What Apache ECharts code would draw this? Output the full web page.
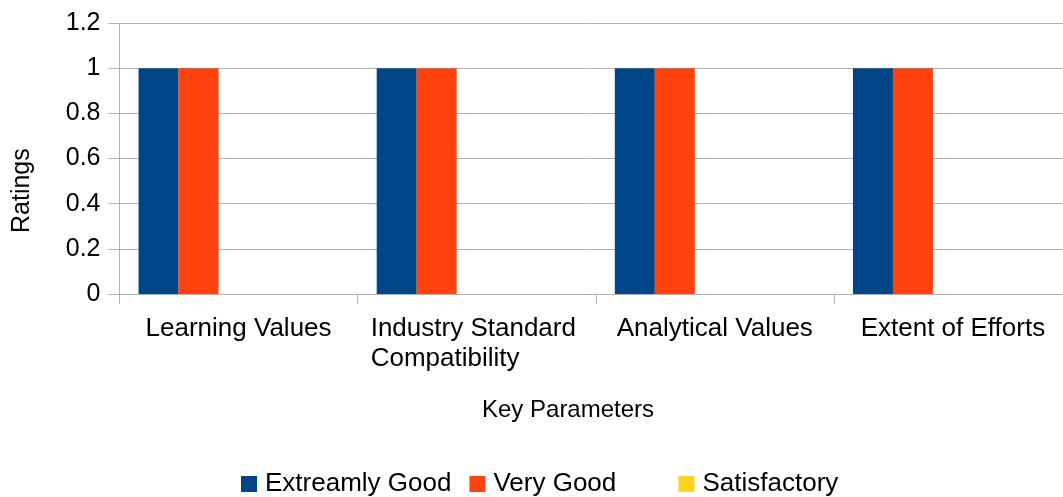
<!DOCTYPE html>
<html>
<head>
<meta charset="utf-8">
<script src="https://cdn.jsdelivr.net/npm/echarts@6/dist/echarts.min.js"></script>
<style>
  html, body { margin: 0; padding: 0; background: #fff; }
  #chart { width: 1063px; height: 497px; }
</style>
</head>
<body>
<div id="chart"></div>
<script>
const categories = ['Learning Values', 'Industry Standard\nCompatibility', 'Analytical Values', 'Extent of Efforts']
const extreamlyGood = [1, 1, 1, 1]
const veryGood = [1, 1, 1, 1]
const unnamedA = [0, 0, 0, 0]
const satisfactory = [0, 0, 0, 0]
const unnamedB = [0, 0, 0, 0]
const yTicks = { min: 0, max: 1.2, step: 0.2 }

const font = 'Liberation Sans'

const chart = echarts.init(document.getElementById('chart'))

function bar(name, data, color) {
  return {
    name: name,
    type: 'bar',
    data: data,
    barWidth: 40,
    barGap: '0%',
    itemStyle: { color: color },
    animation: false
  }
}

chart.setOption({
  animation: false,
  textStyle: { fontFamily: font },
  grid: {
    left: 119.5,
    width: 952.5,
    top: 23,
    bottom: 203,
    containLabel: false,
    outerBoundsMode: 'none'
  },
  legend: {
    left: 236,
    top: 466,
    itemWidth: 16,
    itemHeight: 16,
    itemGap: 18,
    icon: 'rect',
    data: [
      'Extreamly Good',
      'Very Good',
      { name: ' ', textStyle: { fontSize: 8 } },
      'Satisfactory'
    ],
    textStyle: { fontSize: 26, color: '#000', fontFamily: font, padding: [0, 0, 0, 3] }
  },
  graphic: [
    {
      type: 'text',
      left: 482,
      top: 398,
      style: { text: 'Key Parameters', fontSize: 24, fill: '#000', fontFamily: font }
    },
    {
      type: 'text',
      x: 10,
      y: 233,
      rotation: Math.PI / 2,
      style: { text: 'Ratings', fontSize: 25, fill: '#000', fontFamily: font, verticalAlign: 'top' }
    }
  ],
  xAxis: {
    type: 'category',
    data: categories,
    axisLine: { lineStyle: { color: '#b3b3b3', width: 1 } },
    axisTick: { show: true, length: 10, lineStyle: { color: '#b3b3b3' } },
    axisLabel: {
      fontSize: 26,
      color: '#000',
      margin: 20,
      interval: 0,
      lineHeight: 30,
      hideOverlap: false,
      formatter: function (v) {
        if (v.indexOf('\n') >= 0) {
          return v.split('\n').map(function (s) { return '{l|' + s + '}' }).join('\n')
        }
        return v
      },
      rich: {
        l: { fontSize: 26, color: '#000', width: 212, align: 'left', lineHeight: 30, fontFamily: font }
      }
    }
  },
  yAxis: {
    type: 'value',
    min: yTicks.min,
    max: yTicks.max,
    interval: yTicks.step,
    axisLine: { show: true, lineStyle: { color: '#b3b3b3', width: 1 } },
    axisTick: { show: true, length: 11, lineStyle: { color: '#b3b3b3' } },
    axisLabel: { fontSize: 25, color: '#000', margin: 19 },
    splitLine: { show: true, lineStyle: { color: '#b3b3b3', width: 1 } }
  },
  series: [
    bar('Extreamly Good', extreamlyGood, '#004586'),
    bar('Very Good', veryGood, '#ff420e'),
    bar(' ', unnamedA, 'rgba(0,0,0,0)'),
    bar('Satisfactory', satisfactory, '#ffd320'),
    bar('  ', unnamedB, '#579d1c')
  ]
})
</script>
</body>
</html>
